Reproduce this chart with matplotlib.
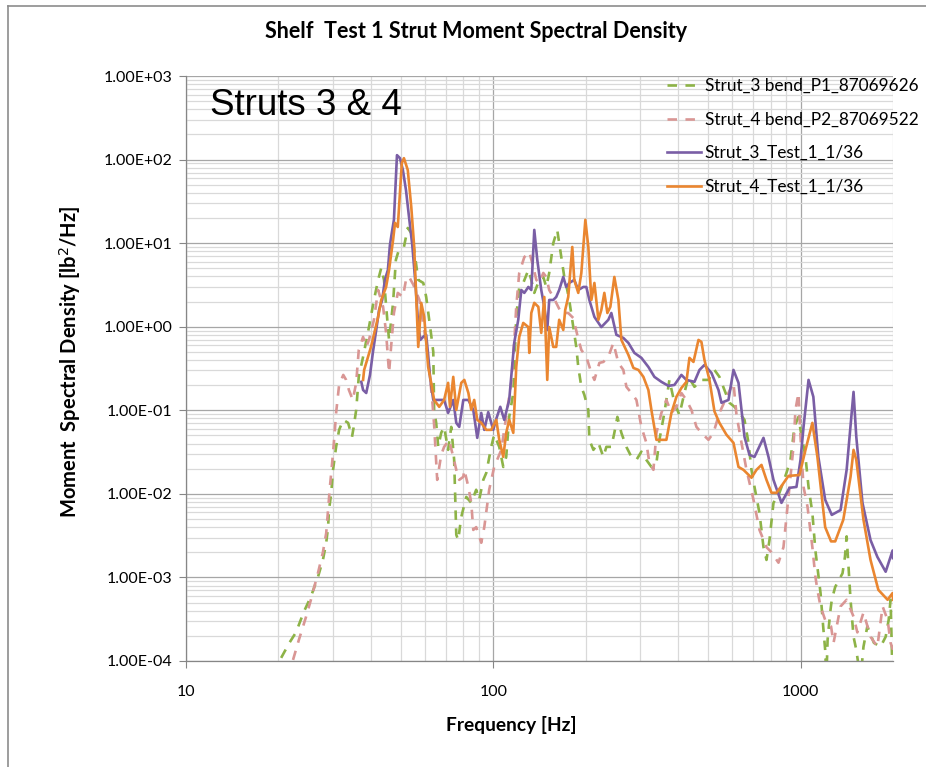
import matplotlib.pyplot as plt
from matplotlib.lines import Line2D
from matplotlib.ticker import FixedLocator, FuncFormatter, LogLocator, NullFormatter

# --- series ---
s3_bend_freq = [20.4, 21.7, 22.8, 24.2, 25.5, 26.9, 27.9, 28.6, 29.0, 29.2, 29.7, 30.1, 30.8, 31.5,
                32.5, 33.7, 34.7, 35.1, 35.8, 36.5, 37.7, 39.4, 40.9, 42.2, 43.2, 44.1, 45.4, 45.8,
                47.2, 48.2, 49.3, 51.2, 52.7, 54.1, 55.3, 57.0, 59.2, 60.5, 61.9, 62.8, 63.8, 64.2,
                65.2, 66.2, 67.7, 69.2, 71.3, 73.0, 74.6, 75.8, 76.9, 78.7, 81.7, 84.8, 88.0, 90.0,
                92.8, 94.9, 98.5, 100.7, 104.6, 107.8, 110.2, 112.7, 116.2, 118.8, 121.5, 125.2,
                130.1, 133.0, 136.0, 141.2, 145.5, 148.8, 152.1, 156.8, 161.5, 165.2, 170.3, 174.1,
                176.7, 182.2, 186.3, 189.1, 193.5, 197.9, 203.9, 205.5, 211.8, 219.9, 228.2, 233.4,
                242.3, 247.8, 253.5, 261.2, 271.2, 281.6, 292.4, 303.5, 315.0, 327.1, 339.7, 347.4,
                360.5, 374.4, 388.7, 403.5, 418.9, 431.7, 451.7, 475.9, 501.6, 524.7, 544.7, 565.5,
                587.2, 609.7, 633.0, 657.2, 677.1, 692.5, 708.3, 735.3, 757.7, 774.9, 792.5, 816.6,
                854.1, 900.0, 927.5, 955.6, 984.7, 1000, 1038, 1062, 1093, 1118, 1162, 1185, 1203,
                1214, 1225, 1249, 1264, 1297, 1370, 1395, 1413, 1455, 1488, 1519, 1568, 1603, 1650,
                1733, 1822, 1893, 1936, 1964, 1994]
s3_bend_psd = [1.09e-4, 1.65e-4, 2.2e-4, 3.9e-4, 5.9e-4, 1.02e-3, 1.62e-3, 2.6e-3, 4.0e-3, 6.4e-3,
               0.0103, 0.0194, 0.0365, 0.0583, 0.0768, 0.0707, 0.0481, 0.0616, 0.101, 0.251, 0.436,
               0.99, 2.09, 3.63, 5.05, 3.63, 0.99, 0.695, 1.93, 6.3, 8.3, 9.0, 15.2, 13.2, 8.3, 3.63,
               3.34, 2.27, 1.21, 0.798, 0.500, 0.101, 0.0707, 0.0365, 0.0537, 0.0633, 0.0336, 0.0633,
               0.0255, 0.00324, 0.0028, 0.0053, 0.0092, 0.0078, 0.0112, 0.0085, 0.0147, 0.0178,
               0.0365, 0.051, 0.0365, 0.0210, 0.0277, 0.0834, 0.161, 1.31, 2.99, 3.34, 4.78, 3.63,
               2.54, 3.63, 3.94, 2.99, 4.40, 10.0, 14.4, 8.3, 3.94, 2.75, 2.09, 0.99, 0.573, 0.330,
               0.191, 0.153, 0.101, 0.0443, 0.0336, 0.0408, 0.0277, 0.0365, 0.0365, 0.0537, 0.0834,
               0.0537, 0.0365, 0.0277, 0.0255, 0.032, 0.0255, 0.0210, 0.0235, 0.0443, 0.0931, 0.231,
               0.123, 0.0881, 0.161, 0.251, 0.191, 0.231, 0.231, 0.304, 0.251, 0.175, 0.123, 0.110,
               0.0931, 0.0768, 0.0408, 0.0194, 0.0121, 0.0059, 0.0023, 0.00162, 0.0028, 0.0078,
               0.0103, 0.0178, 0.0255, 0.0633, 0.0834, 0.0583, 0.0277, 0.0121, 0.0059, 0.0021,
               6.5e-4, 2.6e-4, 1.36e-4, 6e-5, 1.79e-4, 3.8e-4, 5.4e-4, 7.7e-4, 1.12e-3, 1.76e-3,
               3.1e-3, 5.4e-4, 1.95e-4, 1.36e-4, 6e-5, 1.48e-4, 2.6e-4, 1.65e-4, 1.48e-4, 1.95e-4,
               3.1e-4, 5.4e-4, 6e-5]

s4_bend_freq = [22.3, 23.3, 24.6, 25.5, 26.9, 27.9, 28.6, 29.0, 29.4, 29.9, 30.4, 30.8, 31.5, 32.5,
                33.2, 33.9, 34.9, 35.8, 36.5, 37.7, 38.6, 39.4, 40.9, 42.2, 43.8, 44.8, 45.8, 46.5,
                47.5, 48.9, 50.8, 52.0, 53.1, 54.9, 57.5, 59.6, 61.9, 63.3, 64.2, 65.7, 67.7, 69.2,
                71.8, 74.1, 75.8, 77.5, 79.9, 80.5, 83.0, 84.8, 86.1, 88.0, 90.0, 91.4, 93.5, 97.0,
                100.7, 106.2, 111.9, 114.4, 117.0, 118.8, 121.5, 126.2, 131.0, 135.0, 138.1, 141.2,
                145.5, 148.8, 152.1, 156.8, 162.7, 166.5, 175.4, 182.2, 187.7, 193.5, 200.9, 208.6,
                213.4, 221.5, 228.2, 236.9, 246.0, 255.4, 265.1, 271.2, 281.6, 292.4, 303.5, 315.0,
                322.2, 332.1, 339.7, 352.6, 366.0, 380.1, 394.6, 409.6, 425.2, 441.6, 458.5, 475.9,
                501.6, 520.8, 544.7, 582.8, 605.1, 618.9, 642.6, 667.1, 703.0, 735.3, 774.9, 804.5,
                847.7, 880.1, 900.0, 920.5, 948.5, 962.8, 984.7, 1000, 1023, 1054, 1093, 1118, 1135,
                1162, 1203, 1257, 1281, 1350, 1413, 1488, 1531, 1603, 1690, 1779, 1850, 1921, 1964,
                2000]
s4_bend_psd = [1.03e-4, 1.79e-4, 3.4e-4, 5.4e-4, 1.14e-3, 2.0e-3, 3.4e-3, 6.4e-3, 0.0121, 0.0235,
               0.0481, 0.0931, 0.201, 0.265, 0.231, 0.175, 0.133, 0.213, 0.527, 0.755, 0.573, 0.695,
               1.21, 2.75, 1.73, 0.843, 0.280, 0.573, 1.46, 2.54, 2.27, 3.63, 4.0, 3.2, 2.09, 0.915,
               0.304, 0.133, 0.067, 0.0147, 0.0293, 0.0365, 0.0443, 0.0277, 0.0194, 0.0147, 0.0160,
               0.0194, 0.0121, 0.0078, 0.0037, 0.0040, 0.0031, 0.0026, 0.0040, 0.0112, 0.0210,
               0.0336, 0.123, 0.213, 0.640, 1.73, 4.40, 6.8, 7.85, 5.19, 3.63, 3.34, 4.40, 3.94, 2.75,
               2.27, 1.73, 1.46, 1.46, 1.27, 0.798, 0.527, 0.436, 0.280, 0.231, 0.369, 0.379, 0.436,
               0.640, 0.369, 0.304, 0.191, 0.161, 0.133, 0.0633, 0.0408, 0.0235, 0.0194, 0.0537,
               0.0931, 0.133, 0.0931, 0.110, 0.161, 0.133, 0.101, 0.0633, 0.0537, 0.0443, 0.0537,
               0.0931, 0.161, 0.213, 0.0881, 0.0408, 0.0194, 0.0085, 0.0037, 0.0023, 0.0020,
               0.00150, 0.0023, 0.0053, 0.0121, 0.0365, 0.101, 0.161, 0.0481, 0.0121, 0.0070,
               0.0023, 0.00102, 7.1e-4, 4.5e-4, 3.1e-4, 2.6e-4, 1.65e-4, 4.5e-4, 5.4e-4, 3.4e-4,
               2.2e-4, 3.8e-4, 1.95e-4, 1.48e-4, 4.5e-4, 3.1e-4, 1.65e-4, 1.36e-4]

s3_test_freq = [37.2, 37.7, 38.6, 39.7, 40.6, 41.6, 42.5, 43.5, 44.4, 45.4, 46.1, 46.8, 47.5, 48.6,
                49.7, 50.8, 52.0, 53.1, 54.5, 55.7, 57.0, 57.9, 59.2, 60.5, 61.4, 62.3, 63.8, 65.2,
                69.2, 71.3, 74.1, 75.8, 77.5, 79.9, 83.0, 86.1, 88.7, 91.4, 93.5, 96.3, 100, 102.3,
                105.4, 108.6, 112.7, 117.0, 120.6, 123.4, 126.2, 130.1, 133.0, 136.0, 139.1, 143.3,
                146.6, 149.9, 152.1, 156.8, 160.3, 163.9, 169.0, 172.8, 176.7, 183.5, 189.1, 196.4,
                200.9, 205.5, 213.4, 224.8, 236.9, 242.3, 251.6, 265.1, 275.3, 288.0, 303.5, 319.8,
                334.6, 352.6, 371.6, 388.7, 409.6, 425.2, 451.7, 469.0, 486.8, 513.0, 540.7, 553.0,
                582.8, 605.1, 628.3, 657.2, 682.2, 708.3, 757.7, 786.6, 816.6, 867.0, 920.5, 970.1,
                1000, 1023, 1062, 1101, 1143, 1203, 1264, 1350, 1413, 1488, 1519, 1591, 1690, 1779,
                1893, 1994, 2000]
s3_test_psd = [0.219, 0.175, 0.161, 0.265, 0.500, 0.915, 1.59, 2.09, 3.63, 4.78, 9.5, 13.6, 19.0,
               113, 104, 75, 43, 21.7, 9.5, 3.63, 1.05, 0.695, 0.76, 0.798, 0.460, 0.244, 0.133,
               0.133, 0.133, 0.093, 0.133, 0.0707, 0.0633, 0.133, 0.133, 0.101, 0.0468, 0.093,
               0.0583, 0.095, 0.0583, 0.079, 0.110, 0.0768, 0.133, 0.640, 1.21, 2.75, 2.54, 2.99,
               2.75, 14.4, 6.3, 2.75, 1.73, 0.915, 2.09, 2.09, 2.27, 2.75, 3.94, 2.99, 3.34, 3.63,
               2.75, 2.99, 2.99, 2.09, 1.31, 0.99, 1.21, 1.46, 0.80, 0.734, 0.640, 0.486, 0.424,
               0.330, 0.251, 0.219, 0.196, 0.201, 0.265, 0.231, 0.219, 0.304, 0.349, 0.280, 0.175,
               0.123, 0.133, 0.304, 0.213, 0.0481, 0.0293, 0.0277, 0.0468, 0.0277, 0.0147, 0.0078,
               0.0118, 0.0121, 0.0255, 0.0633, 0.231, 0.145, 0.0277, 0.0085, 0.0056, 0.0064,
               0.0194, 0.166, 0.0481, 0.0078, 0.0028, 0.00176, 0.00117, 0.0021, 0.0017]

s4_test_freq = [37.7, 38.0, 40.0, 42.2, 43.2, 44.8, 45.8, 47.2, 47.9, 48.9, 50.4, 51.2, 52.7, 54.1,
                55.3, 57.0, 58.3, 59.6, 61.4, 62.8, 64.2, 66.7, 69.2, 71.3, 72.3, 74.1, 75.8, 78.7,
                80.5, 83.0, 84.8, 86.7, 88.7, 91.4, 94.9, 98.5, 102.3, 104.6, 107.8, 110.2, 112.7,
                116.2, 118.8, 121.5, 125.2, 130.1, 131.0, 133.0, 136.0, 140.2, 143.3, 146.6, 149.9,
                152.1, 156.8, 160.3, 163.9, 169.0, 171.5, 175.4, 180.8, 183.5, 189.1, 193.5, 199.4,
                203.9, 208.6, 213.4, 219.9, 224.8, 229.9, 235.2, 240.5, 247.8, 255.4, 261.2, 275.3,
                285.9, 296.8, 308.1, 319.8, 327.1, 339.7, 352.6, 366.0, 380.1, 394.6, 409.6, 425.2,
                435.0, 448.3, 465.5, 475.9, 486.8, 505.4, 524.7, 544.7, 574.1, 605.1, 628.3, 652.0,
                692.5, 719.0, 746.4, 774.9, 804.5, 835.1, 867.0, 913.6, 992.2, 1038, 1093, 1135,
                1203, 1257, 1297, 1378, 1455, 1488, 1519, 1603, 1690, 1792, 1921, 1994, 2000]
s4_test_psd = [0.231, 0.304, 0.573, 1.31, 2.09, 2.99, 4.78, 10.9, 17.5, 15.6, 91, 104, 75, 27, 9.0,
               0.573, 1.93, 1.31, 0.330, 0.213, 0.133, 0.110, 0.133, 0.213, 0.110, 0.251, 0.101,
               0.213, 0.231, 0.161, 0.101, 0.133, 0.0768, 0.0707, 0.0583, 0.0583, 0.0768, 0.0443,
               0.0277, 0.0537, 0.0768, 0.0537, 0.330, 0.755, 1.11, 0.99, 0.486, 1.46, 1.93, 1.73,
               0.843, 2.27, 0.231, 0.99, 0.573, 0.573, 1.21, 0.915, 1.59, 2.27, 9.0, 3.63, 2.54,
               4.40, 19.0, 9.0, 2.09, 3.34, 1.21, 1.59, 2.54, 1.46, 1.73, 3.94, 2.09, 0.695, 0.460,
               0.321, 0.304, 0.251, 0.175, 0.101, 0.0443, 0.0443, 0.0443, 0.0931, 0.145, 0.185,
               0.219, 0.424, 0.379, 0.695, 0.658, 0.401, 0.231, 0.097, 0.0707, 0.051, 0.0408,
               0.0210, 0.0194, 0.0156, 0.0194, 0.0222, 0.0147, 0.0103, 0.0103, 0.0124, 0.0164,
               0.0168, 0.0336, 0.0707, 0.0277, 0.0040, 0.0027, 0.0027, 0.0049, 0.0160, 0.0336,
               0.0255, 0.0049, 0.00162, 7.1e-4, 5.4e-4, 6.5e-4, 5.4e-4]

labels = ["Strut_3 bend_P1_87069626", "Strut_4 bend_P2_87069522",
          "Strut_3_Test_1_1/36", "Strut_4_Test_1_1/36"]
x_ticks = [10, 100, 1000]

GREEN = "#8db347"
PINK = "#d99694"
PURPLE = "#7a5ea5"
ORANGE = "#ea8630"
GRID_MAJOR = "#a6a6a6"
GRID_MINOR = "#d9d9d9"

plt.rcParams['font.family'] = ['Lato', 'DejaVu Sans']

fig = plt.figure(figsize=(9.26, 7.67), dpi=100, facecolor="white")
ax = fig.add_axes([186 / 926, 1 - 661 / 767, (893 - 186) / 926, (661 - 76) / 767])

dash = (0, (3.6, 3.2))
ax.plot(s3_bend_freq, s3_bend_psd, color=GREEN, lw=1.9, linestyle=dash, label=labels[0])
ax.plot(s4_bend_freq, s4_bend_psd, color=PINK, lw=1.9, linestyle=dash, label=labels[1])
ax.plot(s3_test_freq, s3_test_psd, color=PURPLE, lw=1.9, label=labels[2])
ax.plot(s4_test_freq, s4_test_psd, color=ORANGE, lw=1.9, label=labels[3])

ax.set_xscale('log')
ax.set_yscale('log')
ax.set_xlim(10, 2000)
ax.set_ylim(1e-4, 1e3)

ax.xaxis.set_major_locator(FixedLocator(x_ticks))
ax.xaxis.set_major_formatter(FuncFormatter(lambda v, p: f"{v:g}"))
ax.xaxis.set_minor_locator(LogLocator(base=10, subs=range(2, 10), numticks=20))
ax.xaxis.set_minor_formatter(NullFormatter())
ax.yaxis.set_major_locator(LogLocator(base=10, numticks=20))
ax.yaxis.set_major_formatter(FuncFormatter(lambda v, p: f"{v:.2E}"))
ax.yaxis.set_minor_locator(LogLocator(base=10, subs=range(2, 10), numticks=20))
ax.yaxis.set_minor_formatter(NullFormatter())

ax.grid(which='major', color=GRID_MAJOR, lw=0.9)
ax.grid(which='minor', color=GRID_MINOR, lw=0.9)
ax.set_axisbelow(True)

for side in ['top', 'right']:
    ax.spines[side].set_visible(False)
for side in ['left', 'bottom']:
    ax.spines[side].set_color("#868686")
    ax.spines[side].set_linewidth(0.9)
ax.tick_params(which='major', length=5, color="#868686", labelsize=11.5)
ax.tick_params(axis='y', pad=5)
ax.tick_params(axis='x', pad=12)
ax.tick_params(which='minor', length=0)

fig.text(476 / 926, 1 - 32 / 767, "Shelf  Test 1 Strut Moment Spectral Density",
         fontsize=15.5, fontweight='bold', ha='center', va='center')
fig.text(511 / 926, 1 - 725 / 767, "Frequency [Hz]", fontsize=13.8, fontweight='bold',
         ha='center', va='center')
fig.text(70 / 926, 1 - 362 / 767, "Moment  Spectral Density [lb$^2$/Hz]", fontsize=14.5,
         fontweight='bold', rotation=90, ha='center', va='center')

fig.text(210 / 926, 1 - 115 / 767, "Struts 3 & 4", fontsize=26.5,
         family='Liberation Sans', va='baseline', ha='left')

leg = ax.legend(loc='upper left', bbox_to_anchor=(667 / 926, 1 - 78 / 767),
                bbox_transform=fig.transFigure, frameon=False, fontsize=12.4,
                handlelength=2.0, handletextpad=0.2, labelspacing=1.02,
                borderaxespad=0, borderpad=0)

# chart-area border (only top and left edge visible in the crop)
fig.add_artist(Line2D([8 / 926, 8 / 926], [0, 1 - 6 / 767], color="#8c8c8c", lw=1.2,
                      transform=fig.transFigure))
fig.add_artist(Line2D([8 / 926, 1], [1 - 6 / 767, 1 - 6 / 767], color="#8c8c8c", lw=1.2,
                      transform=fig.transFigure))

fig.savefig("out.png", dpi=100, facecolor="white")
